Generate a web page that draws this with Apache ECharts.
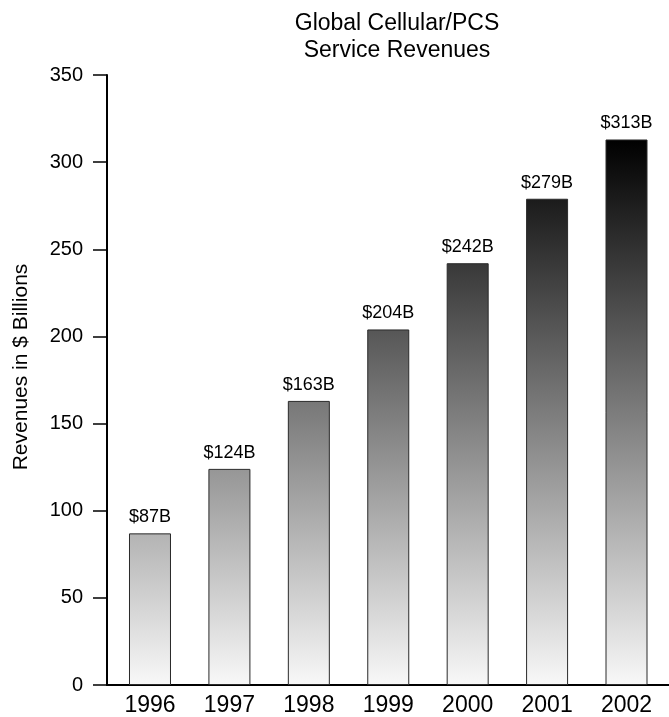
<!DOCTYPE html>
<html>
<head>
<meta charset="utf-8">
<title>Global Cellular/PCS Service Revenues</title>
<script src="https://cdn.jsdelivr.net/npm/echarts@6/dist/echarts.min.js"></script>
<style>
  html, body { margin: 0; padding: 0; background: #ffffff; }
  #chart { width: 669px; height: 717px; }
</style>
</head>
<body>
<div id="chart"></div>
<script>
// Yearly revenue figures (billions of US dollars)
const years = ['1996', '1997', '1998', '1999', '2000', '2001', '2002'];
const revenues = [87, 124, 163, 204, 242, 279, 313];
const yTickValues = [0, 50, 100, 150, 200, 250, 300, 350];

const FONT = '"Liberation Sans", Arial, Helvetica, sans-serif';

const chart = echarts.init(document.getElementById('chart'), null, { renderer: 'canvas' });

const barData = revenues.map((v, i) => [i, v]);

function buildOption(barColor) {
  return {
    backgroundColor: '#ffffff',
    animation: false,
    textStyle: { fontFamily: FONT, color: '#000' },
    title: {
      text: 'Global Cellular/PCS\nService Revenues',
      left: 392,
      top: 5,
      textAlign: 'center',
      textStyle: {
        fontFamily: FONT,
        fontSize: 23,
        fontWeight: 'normal',
        color: '#000',
        lineHeight: 27
      }
    },
    grid: { left: 107, right: 0, top: 75, bottom: 31, containLabel: false },
    xAxis: {
      type: 'value',
      min: -0.5414,
      max: 6.535,
      axisLine: { show: true, onZero: false, lineStyle: { color: '#000', width: 2 } },
      axisTick: { show: false },
      splitLine: { show: false },
      axisLabel: {
        customValues: years.map((_, i) => i),
        formatter: (v) => years[Math.round(v)],
        fontFamily: FONT,
        fontSize: 23,
        color: '#000',
        margin: 9
      }
    },
    yAxis: {
      type: 'value',
      min: yTickValues[0],
      max: yTickValues[yTickValues.length - 1],
      interval: 50,
      name: 'Revenues in $ Billions',
      nameLocation: 'middle',
      nameGap: 75,
      nameTextStyle: {
        fontFamily: FONT,
        fontSize: 21,
        color: '#000',
        padding: [0, 0, 0, 26]
      },
      axisLine: { show: true, onZero: false, lineStyle: { color: '#000', width: 2 } },
      axisTick: { show: true, inside: false, length: 14, lineStyle: { color: '#000', width: 1.5 } },
      splitLine: { show: false },
      axisLabel: {
        fontFamily: FONT,
        fontSize: 20,
        color: '#000',
        margin: 24
      }
    },
    series: [{
      type: 'bar',
      data: barData,
      barWidth: 42,
      itemStyle: {
        color: barColor,
        borderColor: '#2a2a2a',
        borderWidth: 1
      },
      label: {
        show: true,
        position: 'top',
        distance: 7,
        fontFamily: FONT,
        fontSize: 18,
        color: '#000',
        formatter: (p) => '$' + p.value[1] + 'B'
      }
    }]
  };
}

// First pass lays out the axes; the shading is then tied to the value scale,
// running from near-white at zero to black at the tallest bar.
chart.setOption(buildOption('#888888'));
const yZero = chart.convertToPixel({ yAxisIndex: 0 }, 0);
const yPeak = chart.convertToPixel({ yAxisIndex: 0 }, Math.max(...revenues));
const shade = {
  type: 'linear',
  global: true,
  x: 0, y: yZero, x2: 0, y2: yPeak,
  colorStops: [
    { offset: 0, color: '#f8f8f8' },
    { offset: 1, color: '#000000' }
  ]
};
chart.setOption(buildOption(shade));
</script>
</body>
</html>
